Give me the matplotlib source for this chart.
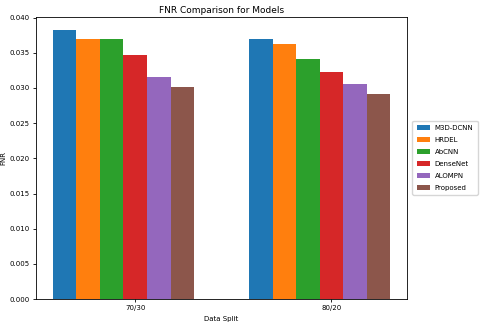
import matplotlib
matplotlib.use('Agg')
import matplotlib.pyplot as plt
import numpy as np

splits = ['70/30', '80/20']
models = ['M3D-DCNN', 'HRDEL', 'AbCNN', 'DenseNet', 'ALOMPN', 'Proposed']
fnr_values = {
	'M3D-DCNN': [0.0382, 0.0370],
	'HRDEL': [0.0369, 0.0362],
	'AbCNN': [0.0369, 0.0341],
	'DenseNet': [0.0347, 0.0323],
	'ALOMPN': [0.0315, 0.0306],
	'Proposed': [0.0301, 0.0291],
}

plt.rcParams['font.family'] = ['DejaVu Sans']

fig = plt.figure(figsize=(4.8, 3.24), dpi=100)
ax = fig.add_axes([0.075, 0.077, 0.773, 0.871])

x = np.arange(len(splits))
bar_width = 0.12

for i, m in enumerate(models):
	ax.bar(x + i * bar_width, fnr_values[m], bar_width, label=m)

ax.set_xticks(x + bar_width * len(models) / 2)
ax.set_xticklabels(splits)
ax.tick_params(labelsize=5, length=2.5, width=0.6, pad=2)
for s in ax.spines.values():
	s.set_linewidth(0.6)

ax.set_title('FNR Comparison for Models', fontsize=6.5, pad=3)
ax.set_xlabel('Data Split', fontsize=5, labelpad=3.5)
ax.set_ylabel('FNR', fontsize=5, labelpad=2)

ax.legend(loc='center left', bbox_to_anchor=(1.005, 0.5), fontsize=5,
	handlelength=2.0, handleheight=0.7, borderpad=0.6, labelspacing=0.85,
	handletextpad=0.6)

fig.savefig('out.png', dpi=100)
